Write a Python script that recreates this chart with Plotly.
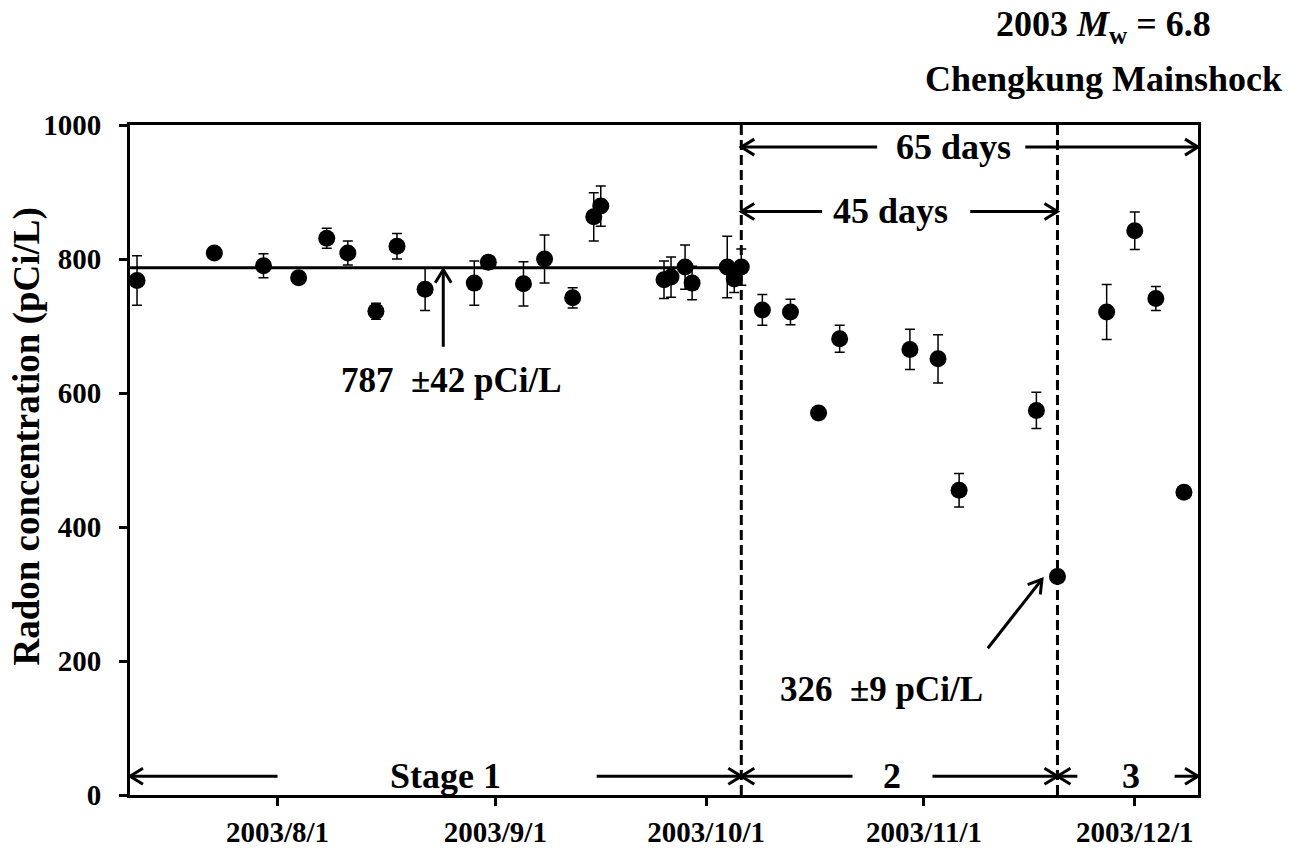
import numpy as np
import plotly.graph_objects as go

# ---------------- data ----------------
dates = ["2003-07-12", "2003-07-23", "2003-07-30", "2003-08-04", "2003-08-08",
         "2003-08-11", "2003-08-15", "2003-08-18", "2003-08-22", "2003-08-29",
         "2003-08-31", "2003-09-05", "2003-09-08", "2003-09-12", "2003-09-15",
         "2003-09-16", "2003-09-25", "2003-09-26", "2003-09-28", "2003-09-29",
         "2003-10-04", "2003-10-05", "2003-10-06",
         "2003-10-09", "2003-10-13", "2003-10-17", "2003-10-20", "2003-10-30",
         "2003-11-03", "2003-11-06", "2003-11-17", "2003-11-20",
         "2003-11-27", "2003-12-01", "2003-12-04", "2003-12-08"]
radon = [768, 809, 790, 772, 831, 809, 722, 819, 755, 764,
         795, 763, 800, 742, 863, 879, 769, 773, 788, 764,
         788, 770, 788,
         724, 721, 570, 681, 665, 651, 455, 574, 326,
         721, 842, 741, 452]
errors = [37, 6, 18, 6, 15, 18, 12, 19, 32, 33,
          10, 33, 36, 15, 36, 30, 28, 30, 33, 25,
          46, 20, 27,
          23, 19, 5, 20, 30, 36, 25, 27, 9,
          41, 28, 18, 6]

mean_value = 787
x_start, x_end = "2003-07-11", "2003-12-10"
stage2_start = "2003-10-06"
stage3_start = "2003-11-20"
mainshock = "2003-12-10"

tick_dates = ["2003-08-01", "2003-09-01", "2003-10-01", "2003-11-01", "2003-12-01"]
tick_labels = ["2003/8/1", "2003/9/1", "2003/10/1", "2003/11/1", "2003/12/1"]
y_ticks = [0, 200, 400, 600, 800, 1000]

FONT = "Liberation Serif"
BLACK = "black"

fig = go.Figure()

fig.add_trace(go.Scatter(
    x=dates, y=radon, mode="markers",
    marker=dict(color=BLACK, size=17),
    error_y=dict(type="data", array=errors, visible=True, color=BLACK,
                 thickness=1.5, width=5),
    showlegend=False, hoverinfo="x+y"))

fig.add_trace(go.Scatter(
    x=[mainshock], y=[1016], mode="markers",
    marker=dict(symbol="triangle-down", size=20, color=BLACK),
    cliponaxis=False, showlegend=False))


def line(x0, y0, x1, y1, dash="solid", width=3):
    fig.add_shape(type="line", xref="x", yref="y", x0=x0, y0=y0, x1=x1, y1=y1,
                  line=dict(color=BLACK, width=width, dash=dash))


def v_head(x, y, dx, dy, length=13, half=8):
    n = np.hypot(dx, dy)
    dx, dy = dx / n, dy / n
    bx, by = -dx * length, -dy * length
    px, py = -dy * half, dx * half
    path = f"M {bx + px:.1f},{by + py:.1f} L 0,0 L {bx - px:.1f},{by - py:.1f}"
    fig.add_shape(type="path", xref="x", yref="y", xsizemode="pixel",
                  ysizemode="pixel", xanchor=x, yanchor=y, path=path,
                  line=dict(color=BLACK, width=3))


def text(x, y, s, size=36, xref="x", yref="y", angle=0):
    fig.add_annotation(x=x, y=y, xref=xref, yref=yref, text=s, showarrow=False,
                       xanchor="center", yanchor="middle", textangle=angle,
                       font=dict(family=FONT, size=size, color=BLACK, weight="bold"))


# mean line and its label
line(x_start, mean_value, stage2_start, mean_value)
line("2003-08-24 14:00", 669, "2003-08-24 14:00", 784)
v_head("2003-08-24 14:00", 784, 0, 1)
text("2003-08-25 18:00", 618, "787  ±42 pCi/L", size=35)

# stage boundaries
line(stage2_start, 0, stage2_start, 1000, dash="10px,5px")
line(stage3_start, 0, stage3_start, 1000, dash="10px,5px")

# 65 days
y65 = 967
line(stage2_start, y65, "2003-10-25 08:00", y65)
v_head(stage2_start, y65, -1, 0)
line("2003-11-15 10:00", y65, mainshock, y65)
v_head(mainshock, y65, 1, 0)
text("2003-11-05 05:00", y65, "65 days")

# 45 days
y45 = 871
line(stage2_start, y45, "2003-10-17 12:00", y45)
v_head(stage2_start, y45, -1, 0)
line("2003-11-07 14:00", y45, stage3_start, y45)
v_head(stage3_start, y45, 1, 0)
text("2003-10-27 07:00", y45, "45 days")

# stage arrows
ys = 28
line(x_start, ys, "2003-08-01", ys)
v_head(x_start, ys, -1, 0)
line("2003-09-15 10:00", ys, stage2_start, ys)
v_head(stage2_start, ys, 1, 0)
text("2003-08-24 22:00", ys, "Stage 1")

line(stage2_start, ys, "2003-10-21 20:00", ys)
v_head(stage2_start, ys, -1, 0)
line("2003-11-02 05:00", ys, stage3_start, ys)
v_head(stage3_start, ys, 1, 0)
text("2003-10-27 12:00", ys, "2")

line(stage3_start, ys, "2003-11-22 20:00", ys)
v_head(stage3_start, ys, -1, 0)
line("2003-12-06 16:00", ys, mainshock, ys)
v_head(mainshock, ys, 1, 0)
text("2003-11-30 12:00", ys, "3")

# minimum arrow
line("2003-11-10 02:00", 219, "2003-11-17 19:00", 322)
v_head("2003-11-17 19:00", 322, 54, 69)
text("2003-10-25 22:00", 157, "326  ±9 pCi/L", size=35)

# earthquake label
text("2003-11-26 12:00", 1.147, "2003 <i>M</i><sub>w</sub> = 6.8", yref="paper")
text("2003-11-26 12:00", 1.069, "Chengkung Mainshock", yref="paper")

# y title
text(-0.0964, 0.535, "Radon concentration (pCi/L)", size=37,
     xref="paper", yref="paper", angle=-90)

axis_common = dict(showline=True, linewidth=3, linecolor=BLACK, mirror=True,
                   showgrid=False, zeroline=False, ticks="outside", ticklen=8,
                   tickwidth=3, tickcolor=BLACK, automargin=False,
                   tickfont=dict(family=FONT, size=29, color=BLACK, weight="bold"))

fig.update_xaxes(range=[x_start, x_end], tickvals=tick_dates, ticktext=tick_labels,
                 ticklabelstandoff=1, **axis_common)
fig.update_yaxes(range=[0, 1000], tickvals=y_ticks, ticklabelstandoff=12, **axis_common)

fig.update_layout(width=1303, height=851,
                  margin=dict(l=130, r=105, t=125, b=56, autoexpand=False),
                  plot_bgcolor="white", paper_bgcolor="white",
                  font=dict(family=FONT, color=BLACK), showlegend=False)

fig.write_html("out.html", config={"displayModeBar": False},
               post_script="document.body.style.margin='0';document.body.style.overflow='hidden';")
